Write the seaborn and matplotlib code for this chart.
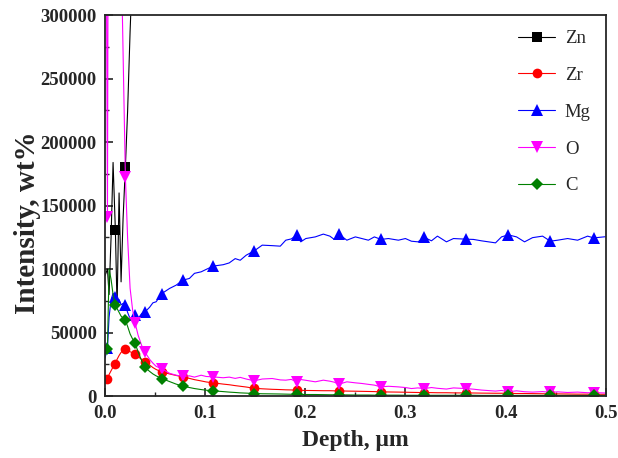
import matplotlib
matplotlib.use("Agg")
import matplotlib.pyplot as plt
import seaborn as sns
from matplotlib.ticker import MultipleLocator, FuncFormatter

# depth grid (um), shared by all elements
depth = [0.0, 0.0024, 0.004, 0.006, 0.008, 0.0103, 0.012, 0.014, 0.016, 0.018,
         0.0203, 0.0225, 0.025, 0.0275, 0.030, 0.033, 0.0365, 0.040, 0.0445, 0.0478,
         0.051, 0.0567, 0.0644, 0.071, 0.0776, 0.0843, 0.0893, 0.096, 0.101, 0.108,
         0.118, 0.124, 0.130, 0.135, 0.141, 0.149, 0.157, 0.167, 0.175, 0.1805,
         0.186, 0.1914, 0.1955, 0.2005, 0.210, 0.218, 0.2245, 0.229, 0.2335, 0.2415,
         0.250, 0.2565, 0.263, 0.269, 0.2756, 0.283, 0.293, 0.300, 0.306, 0.3125,
         0.319, 0.326, 0.332, 0.341, 0.348, 0.3606, 0.368, 0.376, 0.390, 0.396,
         0.4027, 0.411, 0.419, 0.427, 0.437, 0.4448, 0.452, 0.462, 0.472, 0.482,
         0.488, 0.4995]

# Zn leaves the plot early, only the first points are kept
zn = [95000, 100000, 80000, 125000, 184000, 130700, 70000, 160000, 90000, 140000,
      180500, 224000, 287000, 340000, 420000]

zr = [11000, 13400, 17000, 20000, 23000, 25500, 29000, 32000, 34500, 36000,
      36800, 36000, 35000, 34000, 33000, 31000, 29000, 27000, 24500, 22500,
      21000, 19100, 17500, 16300, 15200, 14000, 13000, 12000, 11200, 10500,
      9500, 9000, 8300, 7800, 7200, 6200, 5800, 5400, 5200, 5000,
      4900, 4700, 4600, 4500, 4400, 4300, 4300, 4200, 4200, 4000,
      3900, 3800, 3700, 3600, 3400, 3300, 3200, 3100, 3000, 2900,
      2800, 2800, 2700, 2700, 2600, 2500, 2500, 2400, 2300, 2300,
      2200, 2100, 2100, 2000, 1900, 1800, 1800, 1700, 1600, 1600,
      1500, 1500]

mg = [30000, 38000, 62000, 76000, 81000, 78200, 74000, 76000, 72000, 73000,
      71600, 66000, 61000, 62500, 63800, 61000, 65000, 66400, 70000, 73500,
      74300, 80800, 84800, 87400, 91300, 92700, 96700, 97900, 99800, 102400,
      103500, 104900, 108300, 107000, 111000, 114400, 118900, 118500, 118100, 122800,
      123800, 126800, 121500, 124100, 125400, 127600, 126000, 123400, 127600, 122800,
      125400, 124100, 122800, 125400, 123400, 124100, 122800, 124100, 122000, 121500,
      125000, 122300, 126000, 121500, 124100, 123600, 123400, 122300, 120700, 125400,
      127000, 125400, 121500, 124800, 126000, 122000, 122800, 124100, 122800, 126000,
      124600, 125500]

o = [600000, 140700, 700000, 700000, 700000, 650000, 600000, 500000, 356000, 270000,
     172600, 125000, 85000, 68000, 57700, 48000, 40000, 34500, 29000, 26000,
     23500, 21500, 18000, 16500, 15700, 16000, 15000, 16500, 15500, 15200,
     14500, 15000, 14000, 14800, 13500, 12100, 13500, 13900, 12800, 12600,
     13200, 11300, 13100, 12500, 11300, 12600, 11800, 11000, 9400, 11300,
     10500, 10000, 9300, 8700, 7300, 7800, 7300, 6800, 6000, 6500,
     6000, 6800, 6200, 5600, 6500, 6000, 5500, 4800, 4000, 4500,
     3500, 4200, 3500, 3200, 3600, 3000, 3400, 2900, 3200, 2700,
     2800, 2500]

c = [33000, 37500, 100000, 92000, 80000, 71700, 69000, 66000, 63000, 61500,
     59800, 55000, 49000, 45000, 41500, 35000, 28000, 22600, 19500, 17500,
     16000, 13900, 11500, 9500, 7900, 6800, 6000, 5200, 4700, 4200,
     3600, 3200, 2900, 2600, 2400, 2100, 1900, 1800, 1700, 1600,
     1500, 1500, 1400, 1300, 1300, 1200, 1100, 1100, 1000, 1000,
     900, 900, 900, 800, 800, 800, 800, 700, 700, 700,
     700, 700, 700, 700, 700, 700, 700, 600, 600, 600,
     600, 600, 600, 600, 600, 600, 600, 600, 600, 600,
     600, 600]

# points where the symbols are drawn
mark_idx = [1, 5, 10, 14, 17, 21, 24, 29, 35, 41, 48, 54, 60, 65, 70, 75, 80]
zn_mark_idx = [5, 10, 14]

sns.set_style("ticks")
plt.rcParams['font.family'] = ['Liberation Serif', 'DejaVu Serif']

fig = plt.figure(figsize=(6.18, 4.58), dpi=100)
ax = fig.add_axes([0.170, 0.135, 0.810, 0.832])

series = [
    ("Zn", zn, "black", "s", 6.5, zn_mark_idx),
    ("Zr", zr, "red", "o", 7, mark_idx),
    ("Mg", mg, "blue", "^", 8, mark_idx),
    ("O", o, "magenta", "v", 8, mark_idx),
    ("C", c, "green", "D", 6.5, mark_idx),
]

for name, vals, col, mk, ms, idx in series:
    sns.lineplot(x=depth[:len(vals)], y=vals, ax=ax, color=col, lw=0.8,
                 marker=mk, markersize=ms, markevery=idx, markeredgewidth=0,
                 label=name, sort=False, estimator=None)

ax.set_xlim(0, 0.5)
ax.set_ylim(0, 300000)
ax.xaxis.set_major_locator(MultipleLocator(0.1))
ax.xaxis.set_minor_locator(MultipleLocator(0.05))
ax.yaxis.set_major_locator(MultipleLocator(50000))
ax.yaxis.set_minor_locator(MultipleLocator(25000))
ax.xaxis.set_major_formatter(FuncFormatter(lambda v, p: f"{v:.1f}"))
ax.yaxis.set_major_formatter(FuncFormatter(lambda v, p: f"{int(round(v))}"))
ax.tick_params(which='major', direction='in', length=6, width=1.2, labelsize=13.5, pad=6)
ax.tick_params(which='minor', direction='in', length=3, width=1.0)
for lab in ax.get_xticklabels() + ax.get_yticklabels():
    lab.set_fontweight('bold')
for s in ax.spines.values():
    s.set_linewidth(1.3)
    s.set_visible(True)

ax.set_xlabel("Depth, μm", fontsize=17, fontweight='bold', labelpad=6)
ax.set_ylabel("Intensity, wt%", fontsize=21, fontweight='bold')
ax.yaxis.set_label_coords(-0.128, 0.455)

ax.legend(loc='upper right', frameon=False, fontsize=13.5, handlelength=2.0,
          labelspacing=1.05, borderaxespad=0.5, borderpad=0.3, handletextpad=0.5)

fig.savefig("out.png", dpi=100)
plt.close(fig)
